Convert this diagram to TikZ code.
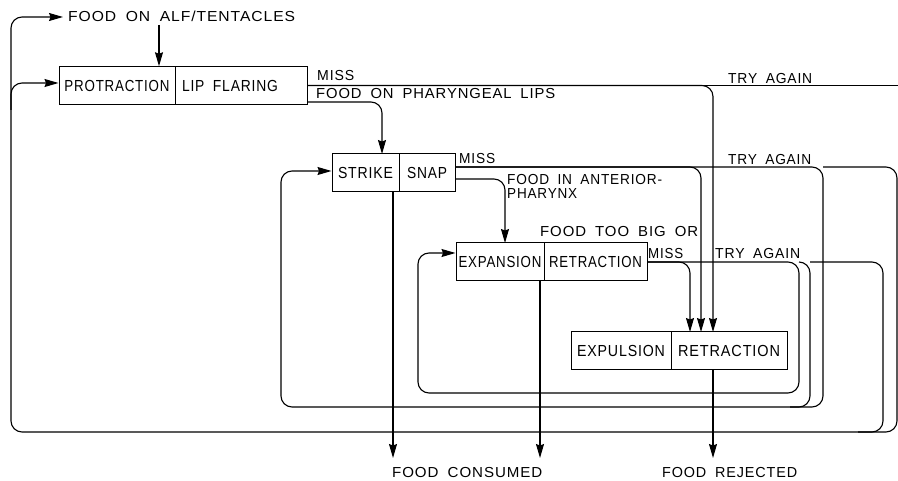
\documentclass[tikz,border=0pt]{standalone}
\usepackage{fontspec}
\setmainfont{Liberation Sans}[LetterSpace=6,WordSpace=1.8]
\usepackage{graphicx}
\usetikzlibrary{arrows.meta,calc}
\newcommand\fw[2]{\resizebox{#1pt}{\height}{#2}}
\tikzset{
  cell/.style={draw,line width=1pt,inner sep=0pt,minimum height=37.5pt,font=\fontsize{16}{18}\selectfont},
  lbl/.style={inner sep=0pt,anchor=base west,font=\fontsize{14.5}{16}\selectfont},
  wire/.style={line width=1.1pt,rounded corners=11pt},
  arr/.style={wire,-{Stealth[length=14pt,width=8pt,inset=1.5pt]}},
}
\begin{document}
\begin{tikzpicture}[x=1pt,y=-1pt]
\useasboundingbox (0,0) rectangle (898,481);
% boxes
\node[cell,minimum width=116pt] (B1a) at (117,85.5) {\fw{105}{PROTRACTION}};
\node[cell,minimum width=132pt] (B1b) at (241,85.5) {\fw{96}{LIP FLARING}\hspace*{22pt}};
\node[cell,minimum width=67pt,minimum height=38pt] (B2a) at (365.5,173) {\fw{55}{STRIKE}};
\node[cell,minimum width=56pt,minimum height=38pt] (B2b) at (427,173) {\fw{40}{SNAP}};
\node[cell,minimum width=88pt,minimum height=38pt] (B3a) at (500,262) {\fw{83}{EXPANSION}};
\node[cell,minimum width=103pt,minimum height=38pt] (B3b) at (595.5,262) {\fw{93}{RETRACTION}};
\node[cell,minimum width=100pt] (B4a) at (621,350.5) {\fw{88}{EXPULSION}};
\node[cell,minimum width=116pt] (B4b) at (729,350.5) {\fw{102}{RETRACTION}};
% labels
\node[lbl] (tA) at (68,22) {\fw{227}{FOOD ON ALF/TENTACLES}};
\node[lbl] (tB) at (317,81) {\fw{37}{MISS}};
\node[lbl] (tC) at (316,99) {\fw{239}{FOOD ON PHARYNGEAL LIPS}};
\node[lbl] (tD) at (728,84) {\fw{84}{TRY AGAIN}};
\node[lbl] (tE) at (459,164) {\fw{36}{MISS}};
\node[lbl] (tF) at (728,165) {\fw{83}{TRY AGAIN}};
\node[lbl] (tG) at (507,185) {\fw{155}{FOOD IN ANTERIOR-}};
\node[lbl] (tH) at (507,199) {\fw{70}{PHARYNX}};
\node[lbl] (tI) at (540,237) {\fw{158}{FOOD TOO BIG OR}};
\node[lbl] (tJ) at (648,259) {\fw{35}{MISS}};
\node[lbl] (tK) at (715,259) {\fw{85}{TRY AGAIN}};
\node[lbl] (tL) at (392,477) {\fw{150}{FOOD CONSUMED}};
\node[lbl] (tM) at (662,477) {\fw{135}{FOOD REJECTED}};
% coordinates
\coordinate (alfin) at (63,17);
\coordinate (alfout) at (159,25);
\coordinate (edge1) at (898,85.5);
\coordinate (in1) at (690,332);
\coordinate (in2) at (701,332);
\coordinate (in3) at (713,332);
\coordinate (s1) at (382,154);
\coordinate (s2) at (505,243);
\coordinate (fc1) at (393,458);
\coordinate (fc2) at (540,458);
\coordinate (fc3) at (713,458);
\coordinate (L0) at (11,432);
\coordinate (L0b) at (11,110);
\coordinate (L1) at (281,407);
\coordinate (L2) at (418,393);
\coordinate (R0) at (897,167);
\coordinate (R1) at (823,167);
\coordinate (R2) at (799,262);
\coordinate (R3) at (810,262);
\coordinate (R4) at (883,262);
% connectors
\draw[arr] (alfout) -- (alfout |- B1a.north);
\draw[arr] (B1b.east) -| (in3);
\draw[wire] (B1b.east) -- (edge1);
\draw[arr] ([yshift=-16.5pt]B1b.east) -| (s1);
\draw[arr] ([yshift=6pt]B2b.east) -| (in2);
\draw[arr] ([yshift=6pt]B2b.east) -- (R1) |- (L1) |- ([yshift=2pt]B2a.west);
\draw[arr] (R1) -- (R0) |- (L0) |- (alfin);
\draw[arr] (L0b) |- ([yshift=2.5pt]B1a.west);
\draw[arr] ([yshift=-6pt]B2b.east) -| (s2);
\draw[arr] (B3b.east) -| (in1);
\draw[arr] (B3b.east) -- (R2) |- (L2) |- ([yshift=9pt]B3a.west);
\draw[wire] (R2) -- (R3) |- ($(R3 |- L1)+(-20,0)$);
\draw[wire] (R3) -- (R4) |- ($(R4 |- L0)+(-25,0)$);
\draw[arr] (fc1 |- B2a.south) -- (fc1);
\draw[arr] (fc2 |- B3a.south) -- (fc2);
\draw[arr] (fc3 |- B4b.south) -- (fc3);
\end{tikzpicture}
\end{document}
